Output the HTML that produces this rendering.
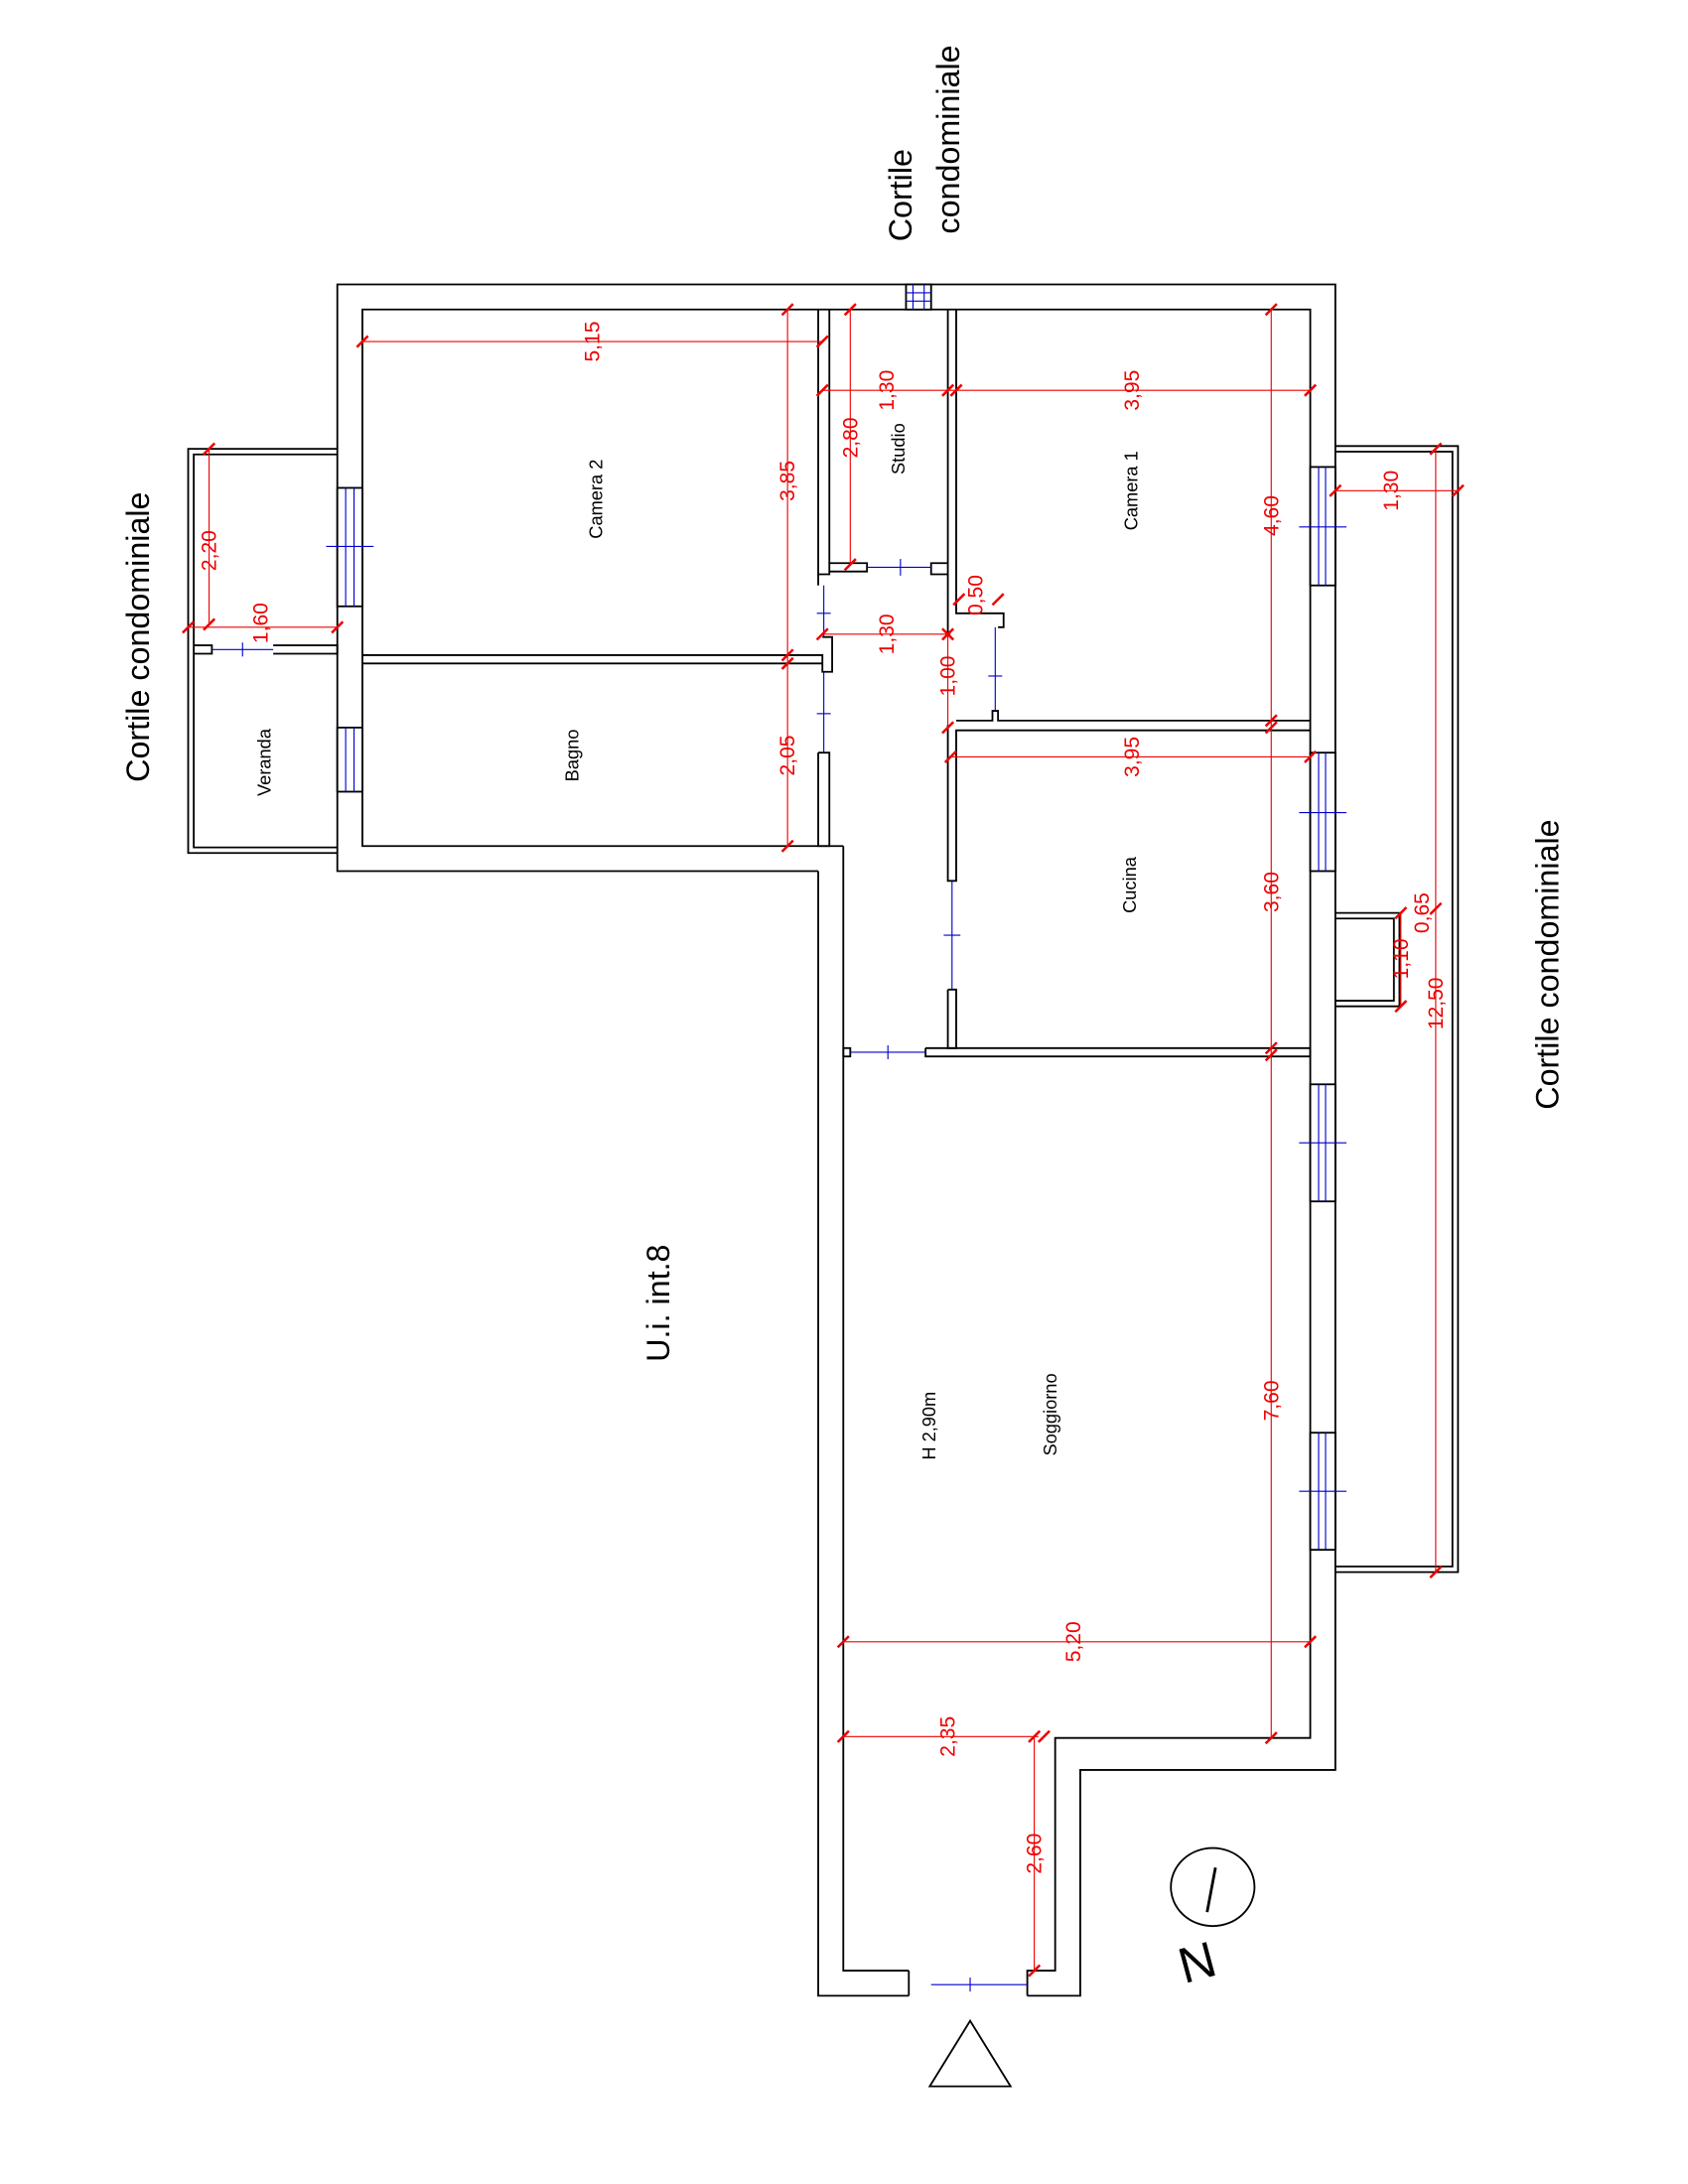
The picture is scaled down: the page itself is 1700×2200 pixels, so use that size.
<!DOCTYPE html>
<html><head><meta charset="utf-8"><style>html,body{margin:0;padding:0;background:#fff}svg{display:block}</style></head>
<body>
<svg width="1700" height="2200" viewBox="0 0 1211 1567" xmlns="http://www.w3.org/2000/svg" font-family="Liberation Sans, sans-serif">
<rect width="1211" height="1567" fill="#fff"/>
<g fill="none" stroke="#000" stroke-width="1.3">
<polyline points="587,625 242,625 242,204 958,204 958,1270 775,1270 775,1432 737,1432"/>
<polyline points="652,1432 587,1432 587,625"/>
<polyline points="605,607 260,607 260,222 940,222 940,1247 757,1247 757,1414 737,1414 737,1432"/>
<polyline points="652,1414 605,1414 605,607"/>
<line x1="652" y1="1414" x2="652" y2="1432"/>
<polyline points="260,470 590,470 590,482 597,482 597,457 590,457"/>
<polyline points="260,476 590,476"/>
<polyline points="587,222 587,412 595,412 595,222"/>
<polyline points="595,404 622,404 622,410 595,410"/>
<polyline points="587,412 587,420"/>
<polyline points="587,540 587,607 595,607 595,540 587,540"/>
<polyline points="680,222 680,412 668,412 668,404 680,404"/>
<polyline points="686,222 686,440 720,440 720,450 716,450"/>
<polyline points="680,412 680,455"/>
<polyline points="686,517 712,517 712,510 716,510 716,517 940,517"/>
<polyline points="680,520 680,632 686,632 686,524 940,524"/>
<polyline points="680,710 680,752 686,752 686,710 680,710"/>
<polyline points="664,752 940,752 940,758 664,758 664,752"/>
<rect x="605" y="752" width="5" height="6"/>
<rect x="650" y="204" width="18" height="18" fill="#fff"/>
<rect x="940" y="335" width="18" height="85" fill="#fff"/>
<rect x="940" y="540" width="18" height="85" fill="#fff"/>
<rect x="940" y="778" width="18" height="84" fill="#fff"/>
<rect x="940" y="1028" width="18" height="84" fill="#fff"/>
<rect x="242" y="350" width="18" height="85" fill="#fff"/>
<rect x="242" y="522" width="18" height="46" fill="#fff"/>
<polyline points="958,320 1046,320 1046,1128 958,1128"/>
<polyline points="958,324 1042,324 1042,1124 958,1124"/>
<polyline points="958,655 1004,655 1004,722 958,722"/>
<polyline points="958,659 1000,659 1000,718 958,718"/>
<polyline points="242,322 135,322 135,612 242,612"/>
<polyline points="242,326 139,326 139,608 242,608"/>
<polyline points="139,463 152,463 152,469 139,469"/>
<polyline points="196,463 242,463 242,469 196,469"/>
<ellipse cx="870" cy="1354" rx="30" ry="28"/>
<line x1="872" y1="1340" x2="866" y2="1372" stroke-width="2"/>
<polygon points="667,1497 725,1497 696,1450"/>
</g>
<g stroke="#00c" stroke-width="0.8" fill="none">
<line x1="668" y1="1424" x2="737" y2="1424"/><line x1="696" y1="1419" x2="696" y2="1429"/>
<line x1="622" y1="407" x2="668" y2="407"/><line x1="646" y1="401" x2="646" y2="413"/>
<line x1="591" y1="420" x2="591" y2="457"/><line x1="586" y1="440" x2="596" y2="440"/>
<line x1="591" y1="482" x2="591" y2="540"/><line x1="586" y1="512" x2="596" y2="512"/>
<line x1="683" y1="632" x2="683" y2="710"/><line x1="677" y1="671" x2="689" y2="671"/>
<line x1="714" y1="450" x2="714" y2="510"/><line x1="709" y1="485" x2="719" y2="485"/>
<line x1="610" y1="755" x2="664" y2="755"/><line x1="637" y1="750" x2="637" y2="760"/>
<line x1="655" y1="204" x2="655" y2="222"/><line x1="663" y1="204" x2="663" y2="222"/>
<line x1="650" y1="210" x2="668" y2="210"/><line x1="650" y1="216" x2="668" y2="216"/>
<line x1="946" y1="335" x2="946" y2="420"/><line x1="951" y1="335" x2="951" y2="420"/><line x1="932" y1="378" x2="966" y2="378"/>
<line x1="946" y1="540" x2="946" y2="625"/><line x1="951" y1="540" x2="951" y2="625"/><line x1="932" y1="583" x2="966" y2="583"/>
<line x1="946" y1="778" x2="946" y2="862"/><line x1="951" y1="778" x2="951" y2="862"/><line x1="932" y1="820" x2="966" y2="820"/>
<line x1="946" y1="1028" x2="946" y2="1112"/><line x1="951" y1="1028" x2="951" y2="1112"/><line x1="932" y1="1070" x2="966" y2="1070"/>
<line x1="248" y1="350" x2="248" y2="435"/><line x1="254" y1="350" x2="254" y2="435"/><line x1="234" y1="392" x2="268" y2="392"/>
<line x1="248" y1="522" x2="248" y2="568"/><line x1="254" y1="522" x2="254" y2="568"/>
<line x1="152" y1="466" x2="196" y2="466"/><line x1="174" y1="461" x2="174" y2="471"/>
</g>
<g stroke="#e00" stroke-width="0.8" fill="none">
<line x1="260" y1="245" x2="590" y2="245"/>
<line x1="565" y1="222" x2="565" y2="607"/>
<line x1="610" y1="222" x2="610" y2="405"/>
<line x1="590" y1="280" x2="940" y2="280"/>
<line x1="912" y1="222" x2="912" y2="1247"/>
<line x1="682" y1="543" x2="940" y2="543"/>
<line x1="590" y1="455" x2="682" y2="455"/>
<line x1="680" y1="455" x2="680" y2="522"/>
<line x1="605" y1="1178" x2="940" y2="1178"/>
<line x1="605" y1="1246" x2="745" y2="1246"/>
<line x1="742" y1="1246" x2="742" y2="1414"/>
<line x1="150" y1="322" x2="150" y2="448"/>
<line x1="135" y1="450" x2="242" y2="450"/>
<line x1="958" y1="352" x2="1046" y2="352"/>
<line x1="1030" y1="322" x2="1030" y2="1128"/>
<line x1="1005" y1="655" x2="1005" y2="722"/>
</g>
<g stroke="#e00" stroke-width="1.8">
<path d="M256,249l8,-8M586,249l8,-8M561,226l8,-8M561,474l8,-8M561,480l8,-8M561,611l8,-8M606,226l8,-8M606,409l8,-8M586,284l8,-8M676,284l8,-8M682,284l8,-8M936,284l8,-8M908,226l8,-8M908,521l8,-8M908,526l8,-8M908,756l8,-8M908,761l8,-8M908,1251l8,-8M678,547l8,-8M936,547l8,-8M586,459l8,-8M676,459l8,-8M684,459l-8,-8M676,526l8,-8M601,1182l8,-8M936,1182l8,-8M601,1250l8,-8M738,1250l8,-8M745,1250l8,-8M738,1418l8,-8M146,326l8,-8M146,452l8,-8M131,454l8,-8M238,454l8,-8M954,356l8,-8M1042,356l8,-8M1026,326l8,-8M1026,1132l8,-8M1026,656l8,-8M1001,726l8,-8M1001,659l8,-8M684,434l8,-8M712,434l8,-8"/>
</g>
<g fill="#e00" font-size="15" text-anchor="middle">
<text transform="translate(430,245) rotate(-90)">5,15</text>
<text transform="translate(570,345) rotate(-90)">3,85</text>
<text transform="translate(570,542) rotate(-90)">2,05</text>
<text transform="translate(615,314) rotate(-90)">2,80</text>
<text transform="translate(641,280) rotate(-90)">1,30</text>
<text transform="translate(817,280) rotate(-90)">3,95</text>
<text transform="translate(917,370) rotate(-90)">4,60</text>
<text transform="translate(917,640) rotate(-90)">3,60</text>
<text transform="translate(917,1005) rotate(-90)">7,60</text>
<text transform="translate(817,543) rotate(-90)">3,95</text>
<text transform="translate(641,455) rotate(-90)">1,30</text>
<text transform="translate(685,485) rotate(-90)">1,00</text>
<text transform="translate(705,427) rotate(-90)">0,50</text>
<text transform="translate(775,1178) rotate(-90)">5,20</text>
<text transform="translate(685,1246) rotate(-90)">2,35</text>
<text transform="translate(747,1330) rotate(-90)">2,60</text>
<text transform="translate(155,395) rotate(-90)">2,20</text>
<text transform="translate(192,447) rotate(-90)">1,60</text>
<text transform="translate(1003,352) rotate(-90)">1,30</text>
<text transform="translate(1035,720) rotate(-90)">12,50</text>
<text transform="translate(1010,688) rotate(-90)">1,10</text>
<text transform="translate(1025,655) rotate(-90)">0,65</text>
</g>
<g fill="#000" font-size="13" text-anchor="middle">
<text transform="translate(432,358) rotate(-90)">Camera 2</text>
<text transform="translate(649,322) rotate(-90)">Studio</text>
<text transform="translate(816,352) rotate(-90)">Camera 1</text>
<text transform="translate(415,542) rotate(-90)">Bagno</text>
<text transform="translate(194,547) rotate(-90)">Veranda</text>
<text transform="translate(815,635) rotate(-90)">Cucina</text>
<text transform="translate(758,1015) rotate(-90)">Soggiorno</text>
<text transform="translate(671,1023) rotate(-90)">H 2,90m</text>
</g>
<g fill="#000" font-size="23" text-anchor="middle">
<text transform="translate(107,457) rotate(-90)">Cortile condominiale</text>
<text transform="translate(654,140) rotate(-90)">Cortile</text>
<text transform="translate(688,100) rotate(-90)">condominiale</text>
<text transform="translate(1118,692) rotate(-90)">Cortile condominiale</text>
<text transform="translate(480,935) rotate(-90)">U.i.  int.8</text>
<text transform="translate(862,1420) rotate(-15)" font-size="36">N</text>
</g>
</svg>
</body></html>
